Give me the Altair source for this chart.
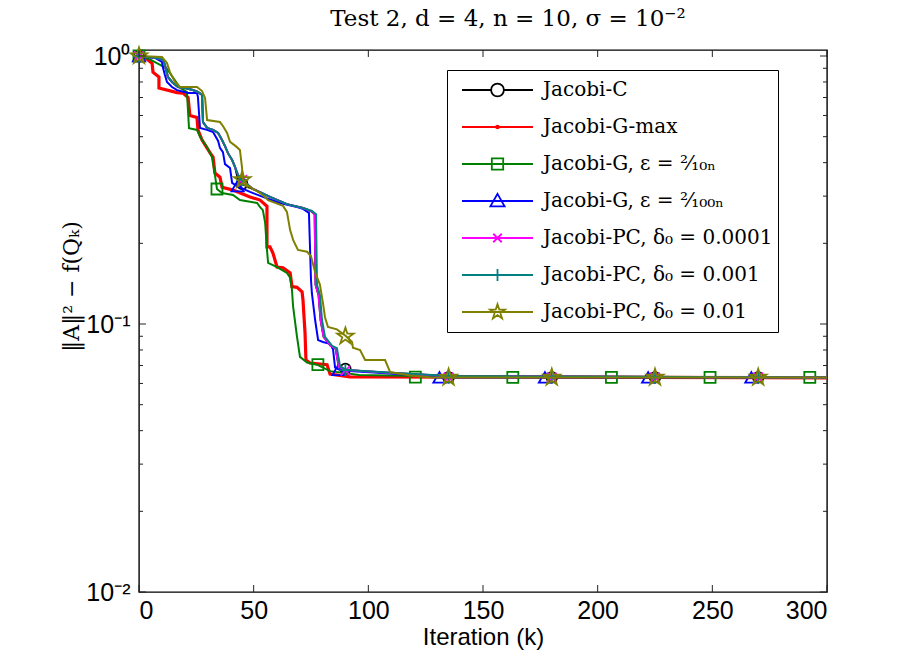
import altair as alt
import pandas as pd

# ---------------- data ----------------
names = [
    "Jacobi-C",
    "Jacobi-G-max",
    "Jacobi-G, ε = ²⁄₁₀ₙ",
    "Jacobi-G, ε = ²⁄₁₀₀ₙ",
    "Jacobi-PC, δ₀ = 0.0001",
    "Jacobi-PC, δ₀ = 0.001",
    "Jacobi-PC, δ₀ = 0.01",
]
colors = ["#000000", "#ff0000", "#008000", "#0000ff", "#ff00ff", "#008080", "#808000"]

# Jacobi-C
k_c = [0, 7.8, 10.5, 11.3, 12.6, 14.4, 17, 20, 23.5, 25.7, 27.5, 27.9, 29.7, 32.3, 34.5, 36.2, 37.5,
       38.8, 40.6, 41.9, 43.2, 44.9, 49.7, 57.1, 64.5, 71.5, 75, 76.6, 77, 78.3, 79.2, 80.5, 83.6,
       85.7, 87.1, 90, 112, 138, 300]
v_c = [1.0, 0.983, 0.966, 0.926, 0.835, 0.80, 0.766, 0.76, 0.747, 0.734, 0.715, 0.567, 0.539, 0.53,
       0.516, 0.486, 0.461, 0.434, 0.409, 0.385, 0.345, 0.333, 0.319, 0.298, 0.28, 0.271, 0.264,
       0.257, 0.14, 0.128, 0.1035, 0.0895, 0.0829, 0.0813, 0.0693, 0.0673, 0.0655, 0.0637, 0.0632]

# Jacobi-G-max
k_gmax = [0, 3, 5.7, 6.1, 8.7, 8.7, 16.6, 19.2, 21.4, 22.2, 25.3, 25.7, 27.5, 31, 32.3, 33.1, 35.3,
          36.2, 41, 48.4, 52.8, 55.8, 55.8, 57.1, 58.4, 60.2, 62.8, 65.9, 66.7, 68.9, 71.1, 71.5,
          72.4, 72.8, 74.6, 82, 83.3, 92, 300]
v_gmax = [1.0, 0.98, 0.94, 0.87, 0.835, 0.76, 0.73, 0.727, 0.70, 0.60, 0.59, 0.53, 0.486, 0.435,
          0.42, 0.366, 0.353, 0.324, 0.316, 0.298, 0.29, 0.275, 0.194, 0.194, 0.184, 0.163, 0.162,
          0.155, 0.138, 0.137, 0.132, 0.123, 0.0925, 0.0734, 0.0715, 0.0705, 0.065, 0.0635, 0.0630]

# Jacobi-G, eps = 2/(10n)
k_g10 = [0, 5, 12, 18, 20.9, 21.8, 25.3, 26.6, 29.7, 31.8, 33.1, 34, 36.2, 41, 44, 51.5, 52.8, 54,
         55, 55.8, 56.3, 60.2, 64.5, 65.9, 66.7, 67.2, 68.9, 70.2, 73.3, 77.6, 83.3, 96, 122, 300]
v_g10 = [1.0, 0.97, 0.90, 0.76, 0.733, 0.538, 0.53, 0.50, 0.457, 0.42, 0.36, 0.319, 0.308, 0.303,
         0.29, 0.283, 0.273, 0.266, 0.239, 0.189, 0.169, 0.163, 0.155, 0.149, 0.134, 0.116, 0.0895,
         0.0754, 0.0718, 0.0705, 0.0667, 0.0645, 0.064, 0.0632]

# Jacobi-G, eps = 2/(100n)
k_g100 = [0, 7, 10, 10.5, 11.3, 12.2, 14.4, 16.6, 21.4, 25.3, 25.7, 26.6, 29.7, 32.3, 34.5, 35.3,
          36.6, 37.5, 39.7, 40.6, 42.7, 48.4, 54, 61.5, 68.9, 71.5, 74.1, 75, 75.4, 76.8, 78.1,
          80.2, 83.3, 84.6, 85.5, 87.7, 93.3, 108, 121, 131, 300]
v_g100 = [1.0, 0.983, 0.95, 0.902, 0.849, 0.80, 0.766, 0.746, 0.728, 0.728, 0.703, 0.539, 0.530,
          0.520, 0.482, 0.454, 0.438, 0.395, 0.382, 0.336, 0.327, 0.311, 0.298, 0.283, 0.273, 0.269,
          0.26, 0.146, 0.13, 0.1035, 0.0871, 0.0857, 0.0843, 0.0805, 0.0688, 0.0673, 0.0667, 0.0655,
          0.0643, 0.0632, 0.0632]

# Jacobi-PC, delta0 = 0.0001
k_pc4 = [0, 7.8, 10.5, 11.3, 12.6, 14.4, 17, 20, 23.5, 25.7, 27.5, 27.9, 29.7, 32.3, 34.5, 36.2,
         37.5, 38.8, 40.6, 41.9, 43.2, 44.9, 49.7, 57.1, 64.5, 71.5, 75, 76.6, 77, 78.3, 79.2, 80.5,
         83.6, 85.7, 87.1, 90, 112, 138, 300]
v_pc4 = [1.0, 0.983, 0.966, 0.926, 0.835, 0.80, 0.766, 0.76, 0.747, 0.734, 0.715, 0.567, 0.539, 0.53,
         0.516, 0.486, 0.461, 0.434, 0.409, 0.385, 0.36, 0.345, 0.319, 0.298, 0.28, 0.271, 0.264,
         0.257, 0.14, 0.128, 0.1035, 0.0895, 0.0829, 0.0813, 0.0693, 0.0673, 0.0655, 0.0637, 0.0632]

# Jacobi-PC, delta0 = 0.001
k_pc3 = [0, 7.8, 10.5, 11.3, 12.6, 14.4, 17, 20, 23.5, 25.7, 27.5, 27.9, 29.7, 32.3, 34.5, 36.2,
         37.5, 38.8, 40.6, 41.9, 43.2, 44.9, 49.7, 57.1, 64.5, 71.5, 75.4, 77.2, 77.6, 78.9, 79.8,
         81.1, 84.2, 86.3, 87.7, 90.7, 113.8, 140, 300]
v_pc3 = [1.0, 0.983, 0.966, 0.926, 0.835, 0.80, 0.766, 0.76, 0.747, 0.734, 0.715, 0.567, 0.539, 0.53,
         0.516, 0.486, 0.461, 0.434, 0.409, 0.385, 0.36, 0.345, 0.319, 0.298, 0.28, 0.271, 0.264,
         0.257, 0.14, 0.128, 0.1035, 0.0895, 0.0829, 0.0813, 0.0693, 0.0673, 0.0655, 0.0637, 0.0632]

# Jacobi-PC, delta0 = 0.01
k_pc2 = [0, 10, 12.2, 13.5, 15.7, 17.9, 25.3, 27.5, 28.8, 29.7, 35.3, 36.6, 38.4, 39.7, 42.3, 44,
         44.9, 45.4, 47.1, 52.8, 54.9, 56.3, 62.8, 64.5, 65.9, 67.2, 69.3, 73.3, 75, 76.8, 78.1,
         78.9, 80.2, 81.1, 82.4, 86.3, 90.3, 92.9, 93.3, 96.4, 98.6, 107.3, 109.5, 118.2, 128.2, 300]
v_pc2 = [1.0, 0.991, 0.942, 0.871, 0.80, 0.766, 0.766, 0.74, 0.697, 0.577, 0.567, 0.548, 0.516,
         0.478, 0.46, 0.446, 0.385, 0.345, 0.33, 0.308, 0.298, 0.29, 0.276, 0.262, 0.224, 0.206,
         0.189, 0.186, 0.179, 0.156, 0.146, 0.14, 0.12, 0.106, 0.0975, 0.0955, 0.090, 0.0857,
         0.0815, 0.080, 0.0734, 0.0734, 0.0662, 0.0643, 0.0632, 0.0632]

# marker positions
mk_c = [0, 45, 90, 135, 180, 225, 270]
mv_c = [1.0, 0.333, 0.068, 0.0632, 0.0632, 0.0632, 0.0632]
mk_g10 = [0, 34, 78, 120.5, 163, 206, 249, 292.5]
mv_g10 = [1.0, 0.319, 0.0705, 0.0634, 0.0632, 0.0632, 0.0632, 0.0632]
mk_g100 = [0, 43, 87, 131, 177, 222, 267]
mv_g100 = [1.0, 0.327, 0.0675, 0.0632, 0.0632, 0.0632, 0.0632]
mk_pc4 = [0, 45, 90, 135, 180, 225, 270]
mv_pc4 = [1.0, 0.345, 0.067, 0.0632, 0.0632, 0.0632, 0.0632]
mk_pc3 = [0, 45, 90, 135, 180, 225, 270]
mv_pc3 = [1.0, 0.345, 0.0673, 0.0632, 0.0632, 0.0632, 0.0632]
mk_pc2 = [0, 45, 90, 135, 180, 225, 270]
mv_pc2 = [1.0, 0.345, 0.090, 0.0632, 0.0632, 0.0632, 0.0632]

x_ticks = [0, 50, 100, 150, 200, 250, 300]
y_major = [0.01, 0.1, 1]
y_minor = [0.02, 0.03, 0.04, 0.05, 0.06, 0.07, 0.08, 0.09, 0.2, 0.3, 0.4, 0.5, 0.6, 0.7, 0.8, 0.9]

# ---------------- build tables ----------------
lines = [(k_c, v_c), (k_gmax, v_gmax), (k_g10, v_g10), (k_g100, v_g100),
         (k_pc4, v_pc4), (k_pc3, v_pc3), (k_pc2, v_pc2)]
markers = [(mk_c, mv_c), None, (mk_g10, mv_g10), (mk_g100, mv_g100),
           (mk_pc4, mv_pc4), (mk_pc3, mv_pc3), (mk_pc2, mv_pc2)]

STAR = ("M0,-1L0.2245,-0.309L0.951,-0.309L0.363,0.118L0.588,0.809L0,0.382L-0.588,0.809"
        "L-0.363,0.118L-0.951,-0.309L-0.2245,-0.309Z")
XMARK = "M-1,-1L1,1M-1,1L1,-1"
PLUS = "M0,-1V1M-1,0H1"
plot_shapes = ["circle", None, "square", "triangle-up", XMARK, PLUS, STAR]
plot_sizes = [110, None, 121, 150, 90, 150, 300]

legend_paths = [
    "M-1,0H-0.18M0.18,0H1M-0.18,0A0.18,0.18,0,1,0,0.18,0A0.18,0.18,0,1,0,-0.18,0",
    "M-1,0H1M-0.04,0A0.04,0.04,0,1,0,0.04,0A0.04,0.04,0,1,0,-0.04,0",
    "M-1,0H1M-0.16,-0.16H0.16V0.16H-0.16Z",
    "M-1,0H1M0,-0.2L0.2,0.15H-0.2Z",
    "M-1,0H1M-0.12,-0.12L0.12,0.12M-0.12,0.12L0.12,-0.12",
    "M-1,0H1M0,-0.17V0.17",
    "M-1,0H1M0,-0.22L0.05,-0.069L0.209,-0.068L0.081,0.026L0.129,0.178L0,0.085L-0.129,0.178"
    "L-0.081,0.026L-0.209,-0.068L-0.05,-0.069Z",
]

line_rows = []
for name, (ks, vs) in zip(names, lines):
    for i, (k, v) in enumerate(zip(ks, vs)):
        line_rows.append({"series": name, "k": k, "v": v, "i": i})
line_df = pd.DataFrame(line_rows)

mk_rows = []
for name, m in zip(names, markers):
    if m is None:
        continue
    for k, v in zip(*m):
        mk_rows.append({"series": name, "k": k, "v": v})
mk_df = pd.DataFrame(mk_rows)

# ---------------- chart ----------------
W, H = 688, 542
SANS = "Liberation Sans Narrow, Liberation Sans, Arial, sans-serif"
SERIF = "DejaVu Serif, Liberation Serif, serif"

xscale = alt.Scale(domain=[0, 300], nice=False, zero=False)
yscale = alt.Scale(type="log", domain=[0.01, 1.053], nice=False)

x_enc = alt.X("k:Q", scale=xscale,
              axis=alt.Axis(values=x_ticks, title="Iteration (k)", titleFont=SANS,
                            titleFontSize=24, titleFontWeight="normal", titlePadding=2,
                            labelFont=SANS, labelFontSize=25, labelPadding=6))
y_enc = alt.Y("v:Q", scale=yscale,
              axis=alt.Axis(values=y_major,
                            labelExpr="datum.value >= 0.5 ? '10⁰' : (datum.value >= 0.05 ? '10⁻¹' : '10⁻²')",
                            labelFont=SANS, labelFontSize=25, labelPadding=9,
                            title="‖A‖² − f(Qₖ)", titleFont=SERIF, titleFontSize=22,
                            titleFontWeight="normal", titleX=-68, titleY=236,
                            titleAlign="center", titleBaseline="middle", titleAngle=270))

layers = []
for idx, name in enumerate(names):
    sw = 3.2 if idx == 1 else 2
    layers.append(
        alt.Chart(line_df).transform_filter(alt.datum.series == name)
        .mark_line(color=colors[idx], strokeWidth=sw, clip=True)
        .encode(x=x_enc, y=y_enc, order="i:Q")
    )
    if plot_shapes[idx] is not None:
        layers.append(
            alt.Chart(mk_df).transform_filter(alt.datum.series == name)
            .mark_point(shape=plot_shapes[idx], color=colors[idx], filled=False,
                        size=plot_sizes[idx], strokeWidth=1.8, opacity=1)
            .encode(x=x_enc, y=y_enc)
        )

# inward ticks (MATLAB style box axes)
xt_df = pd.DataFrame({"k": x_ticks})
ymaj_df = pd.DataFrame({"v": y_major})
ymin_df = pd.DataFrame({"v": y_minor})
tick_col = "#222222"
layers += [
    alt.Chart(xt_df).mark_rule(color=tick_col, strokeWidth=1).encode(x=x_enc, y=alt.value(H), y2=alt.value(H - 7)),
    alt.Chart(xt_df).mark_rule(color=tick_col, strokeWidth=1).encode(x=x_enc, y=alt.value(0), y2=alt.value(7)),
    alt.Chart(ymaj_df).mark_rule(color=tick_col, strokeWidth=1).encode(y=y_enc, x=alt.value(0), x2=alt.value(7)),
    alt.Chart(ymaj_df).mark_rule(color=tick_col, strokeWidth=1).encode(y=y_enc, x=alt.value(W), x2=alt.value(W - 7)),
    alt.Chart(ymin_df).mark_rule(color=tick_col, strokeWidth=1).encode(y=y_enc, x=alt.value(0), x2=alt.value(4)),
    alt.Chart(ymin_df).mark_rule(color=tick_col, strokeWidth=1).encode(y=y_enc, x=alt.value(W), x2=alt.value(W - 4)),
]

# legend layer (no visible data, only the legend)
leg = alt.Legend(orient="none", legendX=308, legendY=20, title=None,
                 symbolSize=5041, clipHeight=30, rowPadding=7, symbolOffset=9,
                 labelOffset=9, padding=5, strokeColor="black", fillColor="white",
                 labelFont=SERIF, labelFontSize=20, labelColor="black",
                 symbolStrokeWidth=1.8, symbolOpacity=1, cornerRadius=0, labelLimit=400)
layers.append(
    alt.Chart(mk_df).transform_filter("false")
    .mark_point(filled=False, strokeWidth=1.8, opacity=1)
    .encode(x=x_enc, y=y_enc,
            stroke=alt.Stroke("series:N", scale=alt.Scale(domain=names, range=colors), legend=leg),
            shape=alt.Shape("series:N", scale=alt.Scale(domain=names, range=legend_paths), legend=leg))
)

chart = (
    alt.layer(*layers)
    .properties(
        width=W, height=H,
        title=alt.TitleParams("Test 2, d = 4, n = 10, σ = 10⁻²", font=SERIF, fontSize=23,
                              fontWeight="normal", color="black", dx=25, offset=13),
        autosize=alt.AutoSizeParams(type="none"),
        padding={"left": 139, "top": 50, "right": 90, "bottom": 75},
        background="white",
    )
    .configure_view(stroke="black", strokeWidth=1.4)
    .configure_axis(domain=False, ticks=False, grid=False, labelColor="black", titleColor="black")
)

chart.save("out.html", embed_options={"renderer": "svg", "actions": False})
